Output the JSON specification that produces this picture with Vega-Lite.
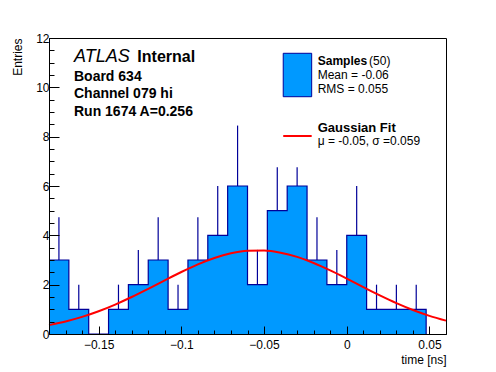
{
  "$schema": "https://vega.github.io/schema/vega-lite/v6.json",
  "width": 397,
  "height": 296,
  "autosize": {"type": "none"},
  "padding": {"left": 49, "top": 38, "right": 50, "bottom": 38},
  "background": "white",
  "config": {
    "view": {"stroke": "black", "strokeWidth": 1},
    "font": "Liberation Sans",
    "axis": {
      "domainColor": "black", "tickColor": "black", "labelColor": "black", "titleColor": "black",
      "labelFont": "Liberation Sans", "titleFont": "Liberation Sans",
      "labelFontSize": 12, "titleFontSize": 12, "titleFontWeight": "normal", "grid": false,
      "labelFlush": false, "labelOverlap": false, "labelBound": false, "domainWidth": 1, "tickWidth": 1
    }
  },
  "resolve": {"axis": {"x": "independent", "y": "independent"}},
  "datasets": {
    "bins": [
      {"lo": -0.18, "c": -0.174, "n": 3, "e": 4.73},
      {"lo": -0.168, "c": -0.162, "n": 1, "e": 2},
      {"lo": -0.156, "c": -0.15, "n": 0, "e": 0},
      {"lo": -0.144, "c": -0.138, "n": 1, "e": 2},
      {"lo": -0.132, "c": -0.126, "n": 2, "e": 3.41},
      {"lo": -0.12, "c": -0.114, "n": 3, "e": 4.73},
      {"lo": -0.108, "c": -0.102, "n": 1, "e": 2},
      {"lo": -0.096, "c": -0.09, "n": 3, "e": 4.73},
      {"lo": -0.084, "c": -0.078, "n": 4, "e": 6},
      {"lo": -0.072, "c": -0.066, "n": 6, "e": 8.45},
      {"lo": -0.06, "c": -0.054, "n": 2, "e": 3.41},
      {"lo": -0.048, "c": -0.042, "n": 5, "e": 6.76},
      {"lo": -0.036, "c": -0.03, "n": 6, "e": 6.76},
      {"lo": -0.024, "c": -0.018, "n": 3, "e": 4.73},
      {"lo": -0.012, "c": -0.006, "n": 2, "e": 3.41},
      {"lo": 0, "c": 0.006, "n": 4, "e": 6},
      {"lo": 0.012, "c": 0.018, "n": 1, "e": 2},
      {"lo": 0.024, "c": 0.03, "n": 1, "e": 2},
      {"lo": 0.036, "c": 0.042, "n": 1, "e": 2},
      {"lo": 0.048, "c": 0.054, "n": 0, "e": 0}
    ],
    "fit": [
      {"x": -0.18, "y": 0.360}, {"x": -0.17, "y": 0.507}, {"x": -0.16, "y": 0.693},
      {"x": -0.15, "y": 0.922}, {"x": -0.14, "y": 1.193}, {"x": -0.13, "y": 1.499},
      {"x": -0.12, "y": 1.832}, {"x": -0.11, "y": 2.177}, {"x": -0.10, "y": 2.514},
      {"x": -0.09, "y": 2.823}, {"x": -0.08, "y": 3.081}, {"x": -0.07, "y": 3.270},
      {"x": -0.06, "y": 3.373}, {"x": -0.05, "y": 3.382}, {"x": -0.04, "y": 3.297},
      {"x": -0.03, "y": 3.125}, {"x": -0.02, "y": 2.879}, {"x": -0.01, "y": 2.579},
      {"x": 0.00, "y": 2.246}, {"x": 0.01, "y": 1.901}, {"x": 0.02, "y": 1.564},
      {"x": 0.03, "y": 1.251}, {"x": 0.04, "y": 0.973}, {"x": 0.05, "y": 0.736},
      {"x": 0.06, "y": 0.541}
    ]
  },
  "layer": [
    {
      "data": {"name": "bins"},
      "mark": {"type": "area", "interpolate": "step-after", "color": "#0099ff"},
      "encoding": {
        "x": {
          "field": "lo", "type": "quantitative", "title": "time [ns]",
          "scale": {"domain": [-0.18, 0.06], "nice": false, "zero": false},
          "axis": {
            "orient": "bottom", "title": "time [ns]", "titleAnchor": "end", "titleAlign": "right", "titlePadding": 4,
            "zindex": 1, "labelOverlap": false, "labelFlush": false,
            "values": [-0.15, -0.1, -0.05, 0, 0.05],
            "format": "~g", "tickSize": -8, "labelPadding": 13
          }
        },
        "y": {
          "field": "n", "type": "quantitative", "title": "Entries",
          "scale": {"domain": [0, 12], "nice": false},
          "axis": {
            "orient": "left", "title": "Entries", "titleAnchor": "end", "titlePadding": 11,
            "zindex": 1, "labelOverlap": false, "labelFlush": false,
            "values": [0, 2, 4, 6, 8, 10, 12],
            "format": "~g", "tickSize": -10, "labelPadding": 10
          }
        }
      }
    },
    {
      "data": {"name": "bins"},
      "mark": {"type": "line", "interpolate": "step-after", "color": "#000099", "strokeWidth": 1.2},
      "encoding": {
        "x": {
          "field": "lo", "type": "quantitative",
          "axis": {
            "orient": "bottom", "title": null, "labels": false, "domain": false, "zindex": 1,
            "values": [-0.17, -0.16, -0.14, -0.13, -0.12, -0.11, -0.09, -0.08, -0.07, -0.06, -0.04, -0.03, -0.02, -0.01, 0.01, 0.02, 0.03, 0.04, 0.06],
            "tickSize": -4
          }
        },
        "y": {
          "field": "n", "type": "quantitative",
          "axis": {
            "orient": "left", "title": null, "labels": false, "domain": false, "zindex": 1,
            "values": [0.5, 1, 1.5, 2.5, 3, 3.5, 4.5, 5, 5.5, 6.5, 7, 7.5, 8.5, 9, 9.5, 10.5, 11, 11.5],
            "tickSize": -5
          }
        }
      }
    },
    {
      "data": {"name": "bins"},
      "transform": [{"filter": "datum.n > 0"}],
      "mark": {"type": "rule", "color": "#000099", "strokeWidth": 1.2},
      "encoding": {
        "x": {"field": "c", "type": "quantitative", "axis": null},
        "y": {"field": "n", "type": "quantitative", "axis": null},
        "y2": {"field": "e"}
      }
    },
    {
      "data": {"name": "fit"},
      "mark": {"type": "line", "color": "#ff0000", "strokeWidth": 2, "interpolate": "monotone"},
      "encoding": {
        "x": {"field": "x", "type": "quantitative", "axis": null},
        "y": {"field": "y", "type": "quantitative", "axis": null}
      }
    },
    {
      "data": {"values": [{}]},
      "mark": {"type": "rect", "color": "#0099ff", "stroke": "#000099", "strokeWidth": 1},
      "encoding": {
        "x": {"datum": -0.0384, "type": "quantitative", "axis": null}, "x2": {"datum": -0.0212},
        "y": {"datum": 9.62, "type": "quantitative", "axis": null}, "y2": {"datum": 11.38}
      }
    },
    {
      "data": {"values": [{}]},
      "mark": {"type": "rule", "color": "#ff0000", "strokeWidth": 2},
      "encoding": {
        "x": {"datum": -0.0384, "type": "quantitative", "axis": null}, "x2": {"datum": -0.0212},
        "y": {"datum": 8.027, "type": "quantitative", "axis": null}
      }
    },
    {
      "data": {"values": [{}]},
      "mark": {"type": "text", "text": "ATLAS", "fontStyle": "italic", "fontSize": 18, "align": "left", "baseline": "alphabetic", "color": "black"},
      "encoding": {"x": {"datum": -0.1649, "type": "quantitative", "axis": null}, "y": {"datum": 11.04, "type": "quantitative", "axis": null}}
    },
    {
      "data": {"values": [{}]},
      "mark": {"type": "text", "text": "Internal", "fontWeight": "bold", "fontSize": 16, "align": "left", "baseline": "alphabetic", "color": "black"},
      "encoding": {"x": {"datum": -0.1266, "type": "quantitative", "axis": null}, "y": {"datum": 11.04, "type": "quantitative", "axis": null}}
    },
    {
      "data": {"values": [{}]},
      "mark": {"type": "text", "text": ["Board 634", "Channel 079 hi", "Run 1674 A=0.256"], "lineHeight": 17.7, "fontWeight": "bold", "fontSize": 14, "align": "left", "baseline": "alphabetic", "color": "black"},
      "encoding": {"x": {"datum": -0.1649, "type": "quantitative", "axis": null}, "y": {"datum": 10.269, "type": "quantitative", "axis": null}}
    },
    {
      "data": {"values": [{}]},
      "mark": {"type": "text", "text": "Samples", "fontWeight": "bold", "fontSize": 12, "align": "left", "baseline": "alphabetic", "color": "black"},
      "encoding": {"x": {"datum": -0.01756, "type": "quantitative", "axis": null}, "y": {"datum": 10.905, "type": "quantitative", "axis": null}}
    },
    {
      "data": {"values": [{}]},
      "mark": {"type": "text", "text": "(50)", "fontSize": 12, "align": "left", "baseline": "alphabetic", "color": "black"},
      "encoding": {"x": {"datum": 0.0135, "type": "quantitative", "axis": null}, "y": {"datum": 10.905, "type": "quantitative", "axis": null}}
    },
    {
      "data": {"values": [{}]},
      "mark": {"type": "text", "text": ["Mean = -0.06", "RMS = 0.055"], "lineHeight": 14.3, "fontSize": 12, "align": "left", "baseline": "alphabetic", "color": "black"},
      "encoding": {"x": {"datum": -0.01756, "type": "quantitative", "axis": null}, "y": {"datum": 10.338, "type": "quantitative", "axis": null}}
    },
    {
      "data": {"values": [{}]},
      "mark": {"type": "text", "text": "Gaussian Fit", "fontWeight": "bold", "fontSize": 13, "align": "left", "baseline": "alphabetic", "color": "black"},
      "encoding": {"x": {"datum": -0.01756, "type": "quantitative", "axis": null}, "y": {"datum": 8.19, "type": "quantitative", "axis": null}}
    },
    {
      "data": {"values": [{}]},
      "mark": {"type": "text", "text": "μ = -0.05, σ =0.059", "fontSize": 12, "align": "left", "baseline": "alphabetic", "color": "black"},
      "encoding": {"x": {"datum": -0.01756, "type": "quantitative", "axis": null}, "y": {"datum": 7.66, "type": "quantitative", "axis": null}}
    }
  ]
}
